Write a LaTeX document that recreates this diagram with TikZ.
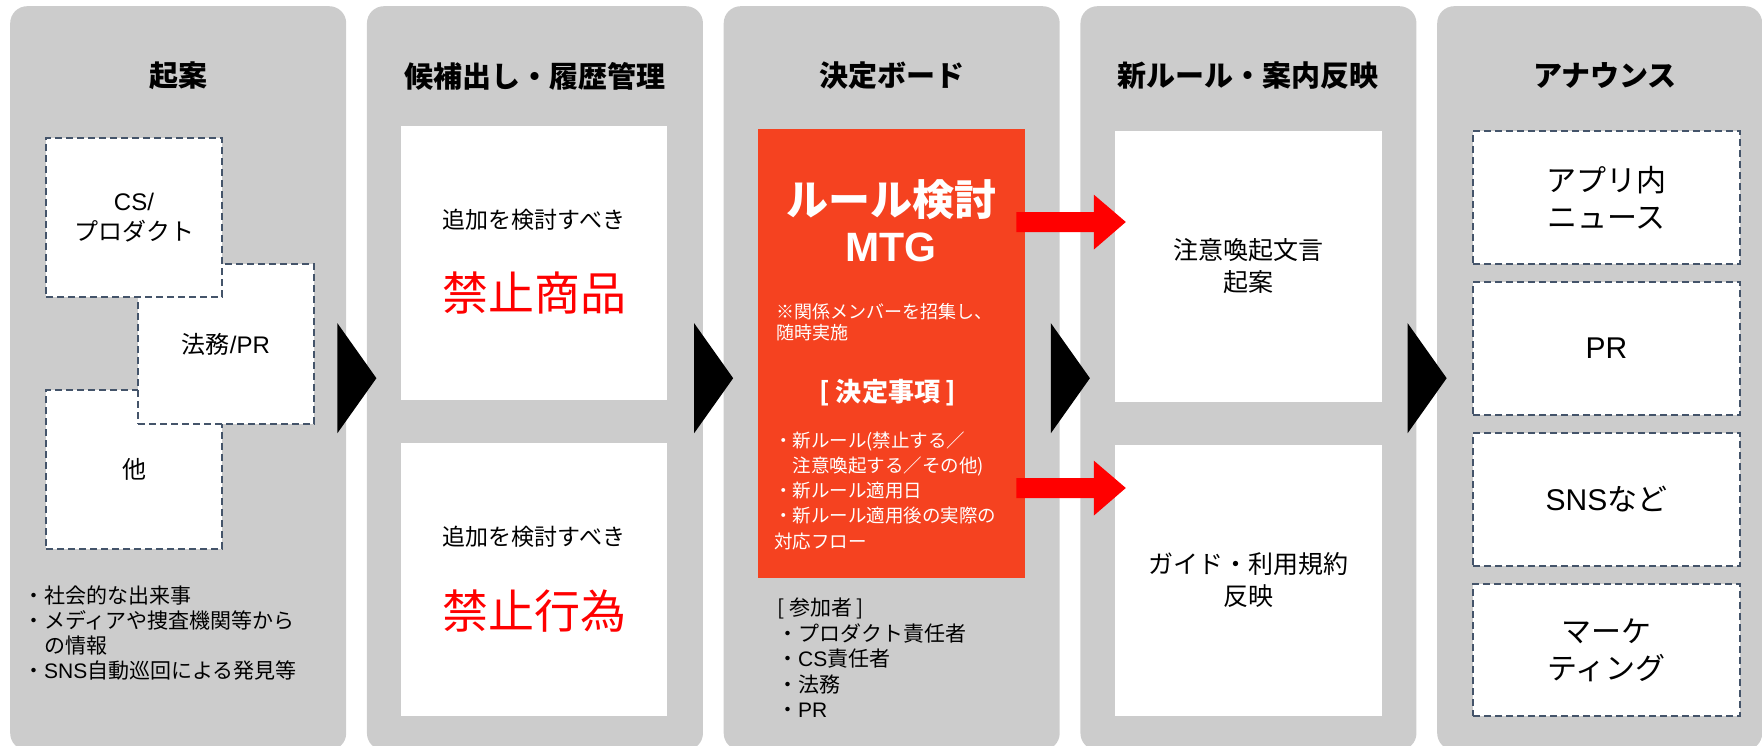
\documentclass[tikz,border=0pt]{standalone}
\usepackage{fontspec}
\setmainfont{Noto Sans CJK JP}
\newfontfamily\latin{Liberation Sans}
\usetikzlibrary{arrows.meta,positioning}
\definecolor{panelgrey}{RGB}{204,204,204}
\definecolor{mtgorange}{RGB}{245,66,32}
\definecolor{dashblue}{RGB}{68,84,106}

\begin{document}
\begin{tikzpicture}[x=1pt,y=-1pt,
    panel/.style={fill=panelgrey, rounded corners=17pt, anchor=north west, minimum width=336pt, minimum height=744pt, inner sep=0pt},
    head/.style={font=\fontsize{29}{34}\selectfont\bfseries},
    dash box/.style={draw=dashblue, fill=white, line width=1.5pt, dash pattern=on 7pt off 4pt, align=center, inner sep=0pt, minimum width=176pt, minimum height=159pt, font=\fontsize{24}{30}\selectfont},
    white box/.style={fill=white, inner sep=0pt, minimum width=267pt, minimum height=271pt, align=center, font=\fontsize{25}{32}\selectfont},
    ann box/.style={dash box, minimum width=267pt, minimum height=133pt, font=\fontsize{30}{37}\selectfont},
    list/.style={align=left, anchor=west, inner sep=0pt},
    on orange/.style={text=white, inner sep=0pt},
    red arrow/.style={draw=red, line width=20pt, -{Triangle[length=32pt,width=55pt,line width=0pt]}}]

    \useasboundingbox (0,0) rectangle (1762,746);

    % panels
    \node[panel] (p1) at (10,6) {};
    \node[panel] (p2) at (366.75,6) {};
    \node[panel] (p3) at (723.5,6) {};
    \node[panel] (p4) at (1080.25,6) {};
    \node[panel, minimum width=325pt] (p5) at (1437,6) {};

    \node[head] (h1) at (178,76) {起案};
    \node[head] (h2) at (534.75,76) {候補出し・履歴管理};
    \node[head] (h3) at (891.5,76) {決定ボード};
    \node[head] (h4) at (1248.25,76) {新ルール・案内反映};
    \node[head] (h5) at (1605,76) {アナウンス};

    % step triangles
    \fill ([xshift=-9pt,yshift=55pt]p1.east) -- ([xshift=30pt]p1.east) -- ([xshift=-9pt,yshift=-55pt]p1.east) -- cycle;
    \fill ([xshift=-9pt,yshift=55pt]p2.east) -- ([xshift=30pt]p2.east) -- ([xshift=-9pt,yshift=-55pt]p2.east) -- cycle;
    \fill ([xshift=-9pt,yshift=55pt]p3.east) -- ([xshift=30pt]p3.east) -- ([xshift=-9pt,yshift=-55pt]p3.east) -- cycle;
    \fill ([xshift=-9pt,yshift=55pt]p4.east) -- ([xshift=30pt]p4.east) -- ([xshift=-9pt,yshift=-55pt]p4.east) -- cycle;

    % proposal
    \node[dash box] (other) at (134,469.5) {他};
    \node[dash box, minimum height=160pt] (legal) at (226,344) {法務{\latin /PR}};
    \node[dash box] (cs) at (134,217.5) {{\latin CS/}\\プロダクト};
    \node[list, font=\fontsize{21}{25.3}\selectfont] (src) at (23,633) {・社会的な出来事\\・メディアや捜査機関等から\\　の情報\\・{\latin SNS}自動巡回による発見等};

    % candidates
    \node[white box, minimum width=266pt, minimum height=274pt] (item) at (534,263) {};
    \node[font=\fontsize{23}{28}\selectfont] (item q) at ([yshift=43pt]item.center) {追加を検討すべき};
    \node[text=red, font=\fontsize{46}{50}\selectfont] (item a) at ([yshift=-30pt]item.center) {禁止商品};
    \node[white box, minimum width=266pt, minimum height=273pt] (act) at (534,579.5) {};
    \node[font=\fontsize{23}{28}\selectfont] (act q) at ([yshift=42.5pt]act.center) {追加を検討すべき};
    \node[text=red, font=\fontsize{46}{50}\selectfont] (act a) at ([yshift=-31.5pt]act.center) {禁止行為};

    % board
    \node[fill=mtgorange, anchor=north west, minimum width=267pt, minimum height=449pt, inner sep=0pt] (mtg) at (758,129) {};
    \node[on orange, font=\fontsize{42}{46}\selectfont\bfseries] (mtg title) at (891,200) {ルール検討};
    \node[on orange, font=\fontsize{41}{46}\selectfont\bfseries\latin] (mtg sub) at (891,247) {MTG};
    \node[list, on orange, font=\fontsize{18}{20.5}\selectfont] (mtg note) at (776,322) {※関係メンバーを招集し、\\随時実施};
    \node[on orange, font=\fontsize{26}{30}\selectfont\bfseries] (mtg head) at (888,393) {[ 決定事項 ]};
    \node[list, on orange, font=\fontsize{18.5}{25.25}\selectfont] (mtg list) at (774,490.5) {・新ルール(禁止する／\\　注意喚起する／その他)\\・新ルール適用日\\・新ルール適用後の実際の\\対応フロー};
    \node[list, font=\fontsize{21}{25.5}\selectfont] (members) at (777,658) {[ 参加者 ]\\・プロダクト責任者\\・{\latin CS}責任者\\・法務\\・{\latin PR}};

    % new rule
    \node[white box] (warn) at (1248.5,266.5) {注意喚起文言\\起案};
    \node[white box] (guide) at (1248.5,580.5) {ガイド・利用規約\\反映};

    \draw[red arrow] ([xshift=-9pt,yshift=131.5pt]mtg.east) -- ([xshift=11pt,yshift=44.5pt]warn.west);
    \draw[red arrow] ([xshift=-9pt,yshift=-134.5pt]mtg.east) -- ([xshift=11pt,yshift=92.5pt]guide.west);

    % announce
    \node[ann box] (news) at (1606.5,197.5) {アプリ内\\ニュース};
    \node[ann box] (pr) at (1606.5,348.5) {\latin PR};
    \node[ann box] (sns) at (1606.5,499.5) {{\latin SNS}など};
    \node[ann box, minimum height=132pt] (mkt) at (1606.5,650) {マーケ\\ティング};
\end{tikzpicture}
\end{document}
